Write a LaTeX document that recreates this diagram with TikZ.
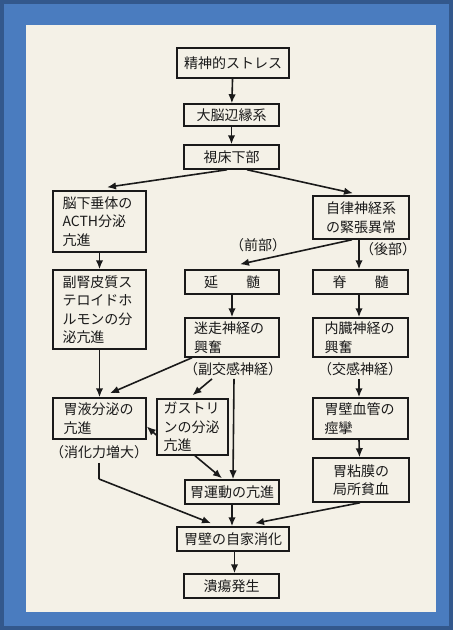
\documentclass[tikz,border=0pt]{standalone}
\usepackage{fontspec}
\newfontfamily\jp{Noto Sans CJK JP}
\usepackage{tikz}
\usetikzlibrary{positioning, arrows.meta}

\definecolor{rahmen}{HTML}{4A7CBF}
\definecolor{rahmendunkel}{HTML}{33588C}
\definecolor{papier}{HTML}{F4F1E7}
\definecolor{tinte}{HTML}{1A1A1A}

\begin{document}
\begin{tikzpicture}[x=1pt,y=-1pt,
  kasten/.style={draw=tinte, line width=1.5pt, inner sep=0pt, align=center, text=tinte,
    font=\jp\fontsize{14}{18.5}\selectfont},
  notiz/.style={inner sep=0pt, text=tinte, font=\jp\fontsize{14}{18.5}\selectfont},
  pfeil/.style={draw=tinte, line width=1.6pt, -{Latex[length=9pt,width=7.5pt]}},
  linie/.style={draw=tinte, line width=1.6pt}]

\useasboundingbox (0,0) rectangle (453,630);
\fill[rahmendunkel] (0,0) rectangle (453,630);
\fill[rahmen] (4,4) rectangle (449,626);
\fill[papier] (26,25) rectangle (436,612);

\node[kasten, minimum width=112pt, minimum height=30pt] (stress) at (233,63) {精神的ストレス};
\node[kasten, minimum width=95pt, minimum height=22pt] (limbic) at (231.5,115) {大脳辺縁系};
\node[kasten, minimum width=95pt, minimum height=24pt] (hypo) at (231.5,157) {視床下部};

\node[kasten, minimum width=93pt, minimum height=61pt, text width=74pt, align=left] (pit) at (99.5,221.5) {脳下垂体の\\ACTH分泌\\亢進};
\node[kasten, minimum width=96pt, minimum height=43pt] (auto) at (361,217.5) {自律神経系\\の緊張異常};

\node[notiz] (front) at (258,245) {（前部）};
\node[notiz] (back) at (388,249) {（後部）};

\node[kasten, minimum width=94pt, minimum height=24pt] (medulla) at (232,282) {延　　髄};
\node[kasten, minimum width=95pt, minimum height=24pt] (spinal) at (360.5,282) {脊　　髄};

\node[kasten, minimum width=93pt, minimum height=79pt, text width=74pt, align=left] (adrenal) at (99.5,309.5) {副腎皮質ス\\テロイドホ\\ルモンの分\\泌亢進};
\node[kasten, minimum width=94pt, minimum height=39pt, text width=76pt, align=left] (vagus) at (232,337.5) {迷走神経の\\興奮};
\node[kasten, minimum width=95pt, minimum height=39pt, text width=72pt, align=left] (splanch) at (360.5,337.5) {内臓神経の\\興奮};

\node[notiz] (parasym) at (233,369) {（副交感神経）};
\node[notiz] (sym) at (360,369) {（交感神経）};

\node[kasten, minimum width=93pt, minimum height=41pt, text width=72pt, align=left] (gastric) at (99.5,418.5) {胃液分泌の\\亢進};
\node[kasten, minimum width=71pt, minimum height=56pt, text width=58pt, align=left] (gastrin) at (192.5,427) {ガストリ\\ンの分泌\\亢進};
\node[kasten, minimum width=95pt, minimum height=41pt, text width=72pt, align=left] (vessel) at (360.5,418.5) {胃壁血管の\\痙攣};
\node[notiz] (digest) at (99,452) {（消化力増大）};

\node[kasten, minimum width=96pt, minimum height=44pt] (mucosa) at (361,480) {胃粘膜の\\局所貧血};
\node[kasten, minimum width=94pt, minimum height=24pt] (motor) at (232,492) {胃運動の亢進};
\node[kasten, minimum width=112pt, minimum height=24pt] (autodig) at (233,539) {胃壁の自家消化};
\node[kasten, minimum width=95pt, minimum height=24pt] (ulcer) at (231.5,586) {潰瘍発生};

\coordinate (knick) at (99,479);

\draw[pfeil] (stress) -- (limbic);
\draw[pfeil] (limbic) -- (hypo);
\draw[pfeil] ([xshift=-4.5pt]hypo.south) -- ([xshift=7.5pt,yshift=3pt]pit.north);
\draw[pfeil] ([xshift=15.5pt]hypo.south) -- ([xshift=-8pt,yshift=2pt]auto.north);
\draw[pfeil] (pit) -- (adrenal);
\draw[pfeil] ([xshift=-9pt]auto.south) -- ([xshift=8pt,yshift=5pt]medulla.north);
\draw[pfeil] ([xshift=-2pt]auto.south) -- ([xshift=-1.5pt]spinal.north);
\draw[pfeil] (medulla) -- (vagus);
\draw[pfeil] ([xshift=-1.5pt]spinal.south) -- ([xshift=-1.5pt]splanch.north);
\draw[pfeil] (adrenal) -- (gastric);
\draw[pfeil] ([xshift=-40pt]vagus.south) -- ([xshift=10.5pt,yshift=4pt]gastric.north);
\draw[pfeil] ([xshift=-21pt,yshift=-3pt]parasym.south) -- ([yshift=3pt]gastrin.north);
\draw[pfeil] ([xshift=1pt,yshift=-3pt]parasym.south) -- ([xshift=1pt]motor.north);
\draw[pfeil] ([xshift=-1pt,yshift=-3pt]sym.south) -- ([xshift=-1.5pt]vessel.north);
\draw[pfeil] ([xshift=-1.5pt]vessel.south) -- ([xshift=-1.5pt]mucosa.north);
\draw[pfeil] ([yshift=-8pt]gastrin.west) -- ([yshift=-8pt]gastric.east);
\draw[pfeil] ([xshift=2.5pt]gastrin.south) -- ([xshift=-10pt,yshift=1pt]motor.north);
\draw[linie] ([yshift=-4pt]digest.south) -- (knick);
\draw[pfeil] (knick) -- ([xshift=-22pt,yshift=3pt]autodig.north);
\draw[pfeil] (motor) -- ([xshift=-1pt]autodig.north);
\draw[pfeil] ([xshift=-1pt]mucosa.south) -- ([xshift=22pt,yshift=3pt]autodig.north);
\draw[pfeil] ([xshift=1.5pt]autodig.south) -- ([xshift=3pt]ulcer.north);

\end{tikzpicture}
\end{document}
